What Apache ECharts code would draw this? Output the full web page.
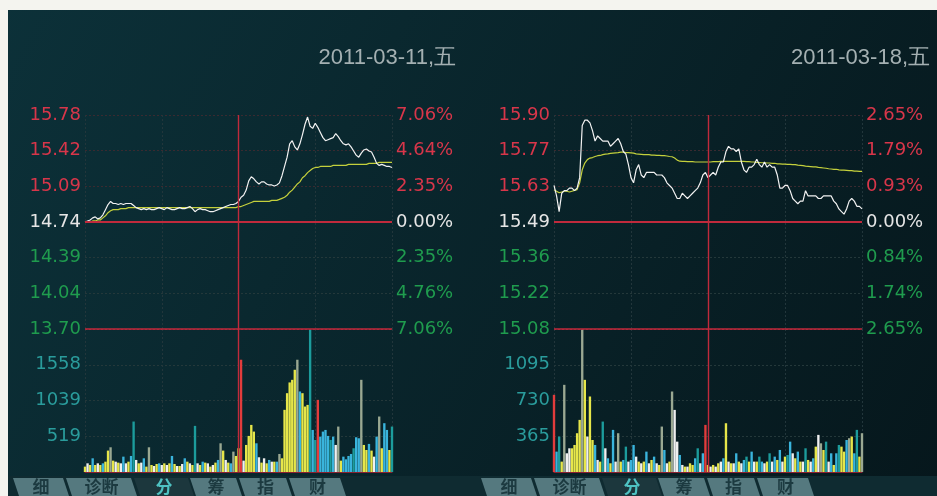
<!DOCTYPE html>
<html>
<head>
<meta charset="utf-8">
<script src="https://cdn.jsdelivr.net/npm/echarts@6/dist/echarts.min.js"></script>
<style>
html,body{margin:0;padding:0;background:#ffffff;}
#c{width:937px;height:496px;}
</style>
</head>
<body>
<div id="c"></div>
<script>
// ---------------- DATA ----------------
const dates = ['2011-03-11', '2011-03-18'];
const weekday = '五';
const tabNames = ['细', '诊断', '分', '筹', '指', '财'];

const leftPriceLabels  = ['15.78', '15.42', '15.09', '14.74', '14.39', '14.04', '13.70'];
const leftPctLabels    = ['7.06%', '4.64%', '2.35%', '0.00%', '2.35%', '4.76%', '7.06%'];
const leftVolTicks     = [519, 1039, 1558];
const rightPriceLabels = ['15.90', '15.77', '15.63', '15.49', '15.36', '15.22', '15.08'];
const rightPctLabels   = ['2.65%', '1.79%', '0.93%', '0.00%', '0.84%', '1.74%', '2.65%'];
const rightVolTicks    = [365, 730, 1095];

// price (2-minute samples, 121 points)
const leftPrice = [
  14.74,14.75,14.76,14.78,14.79,14.77,14.78,14.81,14.86,14.91,
  14.94,14.92,14.92,14.91,14.92,14.91,14.92,14.92,14.92,14.90,
  14.88,14.87,14.86,14.87,14.86,14.87,14.86,14.86,14.87,14.88,
  14.87,14.86,14.88,14.87,14.86,14.86,14.87,14.88,14.87,14.87,
  14.88,14.89,14.87,14.84,14.86,14.87,14.86,14.86,14.85,14.84,
  14.84,14.85,14.86,14.87,14.88,14.89,14.90,14.91,14.91,14.92,
  14.94,14.98,15.00,15.05,15.14,15.18,15.16,15.13,15.11,15.13,
  15.13,15.11,15.10,15.10,15.09,15.10,15.12,15.19,15.28,15.37,
  15.50,15.53,15.47,15.44,15.50,15.59,15.69,15.76,15.67,15.65,
  15.70,15.66,15.61,15.56,15.53,15.54,15.55,15.56,15.60,15.57,
  15.53,15.50,15.49,15.50,15.47,15.43,15.39,15.37,15.41,15.44,
  15.45,15.43,15.42,15.37,15.31,15.29,15.30,15.29,15.28,15.28,15.27
];
const leftAvg = [
  14.74,14.74,14.74,14.75,14.75,14.76,14.76,14.78,14.80,14.83,
  14.85,14.86,14.86,14.86,14.87,14.87,14.87,14.88,14.88,14.88,
  14.88,14.88,14.88,14.88,14.88,14.88,14.88,14.88,14.88,14.88,
  14.88,14.88,14.88,14.88,14.88,14.88,14.88,14.88,14.88,14.88,
  14.88,14.88,14.88,14.88,14.88,14.88,14.88,14.88,14.88,14.88,
  14.88,14.88,14.88,14.88,14.88,14.88,14.88,14.88,14.88,14.88,
  14.89,14.89,14.90,14.91,14.92,14.93,14.94,14.94,14.94,14.94,
  14.94,14.94,14.94,14.95,14.95,14.95,14.96,14.97,14.98,15.00,
  15.03,15.05,15.08,15.11,15.13,15.17,15.19,15.22,15.24,15.26,
  15.27,15.27,15.28,15.28,15.28,15.28,15.28,15.29,15.29,15.29,
  15.29,15.29,15.29,15.30,15.30,15.30,15.30,15.30,15.30,15.30,
  15.30,15.31,15.31,15.31,15.31,15.32,15.32,15.32,15.32,15.32,15.32
];
const leftVol = [
  78,126,102,199,102,126,102,126,150,311,
  359,165,150,136,126,223,126,150,233,733,
  175,126,136,199,78,359,102,87,116,126,
  102,126,102,126,233,116,87,87,116,199,
  150,126,102,670,126,102,150,136,126,78,
  102,136,175,417,311,175,136,126,296,233,
  345,1631,165,393,524,684,587,417,214,136,
  199,126,175,150,150,150,262,199,903,1145,
  1301,1339,1485,1631,1170,1145,951,975,2067,611,
  466,1048,514,587,611,524,466,514,393,660,
  165,223,184,233,262,345,505,490,1339,393,
  320,408,311,223,514,806,345,709,611,320,660
];
const leftVolKind = 'YWYCYWYCYY GYWYWCWYCT WYWCYGYWYC WYWYCYWYWC YWYTWYCYWY WYCGYWYCGY YRWYYYYCWY WYCWYCGYYY YYYGCYYYTC TRCCCCTCWG YCCCCTCCGY YCYWCGYCCYT';

const rightPrice = [
  15.63,15.59,15.53,15.60,15.61,15.61,15.62,15.62,15.61,15.62,
  15.66,15.86,15.88,15.88,15.87,15.84,15.80,15.82,15.81,15.80,
  15.80,15.80,15.78,15.79,15.80,15.81,15.79,15.76,15.75,15.71,
  15.66,15.64,15.69,15.71,15.67,15.66,15.68,15.68,15.68,15.68,
  15.67,15.67,15.67,15.66,15.64,15.63,15.62,15.60,15.58,15.58,
  15.60,15.59,15.58,15.59,15.60,15.61,15.62,15.64,15.67,15.68,
  15.66,15.67,15.68,15.67,15.70,15.72,15.72,15.76,15.78,15.77,
  15.77,15.76,15.77,15.72,15.69,15.68,15.70,15.70,15.71,15.73,
  15.71,15.70,15.72,15.70,15.71,15.70,15.70,15.67,15.62,15.62,
  15.63,15.63,15.61,15.58,15.57,15.56,15.57,15.57,15.61,15.59,
  15.59,15.59,15.59,15.58,15.58,15.59,15.59,15.59,15.59,15.57,
  15.56,15.54,15.53,15.52,15.54,15.57,15.58,15.57,15.55,15.55,15.54
];
const rightAvg = [
  15.614,15.608,15.602,15.605,15.608,15.608,15.605,15.608,15.611,15.614,
  15.640,15.690,15.716,15.729,15.735,15.737,15.741,15.744,15.745,15.748,
  15.750,15.751,15.753,15.754,15.755,15.756,15.758,15.758,15.756,15.756,
  15.755,15.754,15.751,15.750,15.749,15.748,15.748,15.748,15.746,15.746,
  15.745,15.745,15.744,15.744,15.743,15.741,15.740,15.735,15.727,15.723,
  15.722,15.722,15.721,15.721,15.721,15.720,15.720,15.720,15.720,15.720,
  15.720,15.720,15.721,15.721,15.721,15.722,15.722,15.722,15.722,15.722,
  15.722,15.722,15.722,15.722,15.722,15.721,15.721,15.720,15.720,15.718,
  15.718,15.717,15.717,15.716,15.716,15.715,15.715,15.713,15.713,15.712,
  15.712,15.711,15.711,15.710,15.710,15.708,15.707,15.706,15.704,15.703,
  15.702,15.701,15.701,15.699,15.698,15.697,15.696,15.694,15.693,15.692,
  15.692,15.690,15.689,15.689,15.688,15.687,15.687,15.685,15.685,15.684,15.684
];
const rightVol = [
  788,208,362,106,890,191,242,242,276,396,
  532,1453,941,362,771,327,276,123,106,515,
  242,140,89,430,106,396,106,123,259,106,
  123,276,157,106,89,106,208,89,123,157,
  89,72,464,225,89,106,822,634,310,174,
  72,55,55,89,72,140,242,89,191,481,
  72,55,72,55,89,106,140,498,106,89,
  89,191,106,89,123,157,106,208,106,106,
  157,106,89,106,191,106,157,123,225,106,
  157,174,310,191,140,208,106,106,242,123,
  106,140,259,379,293,225,310,106,191,72,
  191,276,259,208,327,345,362,191,430,157,396
];
const rightVolKind = 'RCTYGWWYYY YGYWYYCWYT WCYCWGYCTW CCWYWYCWYC WYGCWYGWWC WYWYYCTWCR YWYWYWCYWY WCYWCTYCWY TCWYTWCYCW YTCWYCYWTY WCYWGYTWCY CTYYCGYCTYG';

// x categories: 2-minute trading times
function buildTimes() {
  const out = [];
  const fmt = m => String(Math.floor(m / 60)).padStart(2, '0') + ':' + String(m % 60).padStart(2, '0');
  for (let m = 570; m <= 690; m += 2) out.push(fmt(m));
  for (let m = 782; m <= 900; m += 2) out.push(fmt(m));
  return out;
}
const times = buildTimes();

// ---------------- STYLE ----------------
const RED = '#d8364a', WHITE = '#e6e6e6', GREEN = '#1f9c4e', TEAL = '#2a9c9c';
const KIND_COLOR = { Y: '#e6e64a', W: '#f0f0f0', C: '#3ab4dc', T: '#1c9c9c', R: '#e23c3c', G: '#9aa892' };
const LABEL_FONT = { fontFamily: 'DejaVu Sans', fontSize: 18 };
const TOP = 115, PRICE_H = 214, VOL_H = 143;
const layouts = [{ left: 85, width: 307, titleRight: 476, tabShift: 0 }, { left: 554, width: 308, titleRight: 2, tabShift: 468 }];

function labelColor(v) {
  v = Number(v);
  return v > 3 ? RED : (v === 3 ? WHITE : GREEN);
}

const grids = [], xAxes = [], yAxes = [], series = [], titles = [];

function addPanel(k, priceLabels, pctLabels, volTicks, price, avg, vol, kindStr) {
  const L = layouts[k];
  const kinds = kindStr.replace(/ /g, '').split('');
  const gP = grids.length;
  grids.push({ left: L.left, top: TOP, width: L.width, height: PRICE_H });
  grids.push({ left: L.left, top: TOP + PRICE_H, width: L.width, height: VOL_H });

  const vSplit = {
    show: true,
    interval: (i) => i % 30 === 0 && i !== 60,
    lineStyle: { color: '#22363b', width: 1, type: [2, 2] }
  };
  const xP = xAxes.length;
  xAxes.push({ type: 'category', gridIndex: gP, data: times, boundaryGap: false,
    axisLine: { show: false }, axisTick: { show: false }, axisLabel: { show: false }, splitLine: vSplit });
  xAxes.push({ type: 'category', gridIndex: gP + 1, data: times, boundaryGap: false,
    axisLine: { show: true, lineStyle: { color: '#8a2030', width: 1 } },
    axisTick: { show: false }, axisLabel: { show: false }, splitLine: vSplit });

  const low = Number(priceLabels[6]), high = Number(priceLabels[0]), base = Number(priceLabels[3]);
  const yP = yAxes.length;
  // hidden price scale
  yAxes.push({ type: 'value', gridIndex: gP, min: low, max: high, show: false, splitLine: { show: false } });
  // left tick labels (row index axis)
  yAxes.push({ type: 'value', gridIndex: gP, position: 'left', min: 0, max: 6, interval: 1,
    axisLine: { show: false }, axisTick: { show: false },
    axisLabel: Object.assign({ margin: 4, formatter: v => priceLabels[6 - v], color: labelColor }, LABEL_FONT),
    splitLine: { show: true, lineStyle: { width: 1, type: [2, 2],
      color: ['#8a2030', '#24383a', '#24383a', '#8a2030', '#3a2a30', '#3a2a30', '#3a2a30'] } } });
  // right percent labels
  yAxes.push({ type: 'value', gridIndex: gP, position: 'right', min: 0, max: 6, interval: 1,
    axisLine: { show: false }, axisTick: { show: false },
    axisLabel: Object.assign({ margin: 4, formatter: v => pctLabels[6 - v], color: labelColor }, LABEL_FONT),
    splitLine: { show: false } });
  // hidden volume scale
  const volMax = volTicks[2] * 4 / 3;
  yAxes.push({ type: 'value', gridIndex: gP + 1, min: 0, max: volMax, show: false, splitLine: { show: false } });
  // volume labels (row index axis)
  yAxes.push({ type: 'value', gridIndex: gP + 1, position: 'left', min: 0, max: 4, interval: 1,
    axisLine: { show: false }, axisTick: { show: false },
    axisLabel: Object.assign({ margin: 4, color: TEAL,
      formatter: v => (v >= 1 && v <= 3 ? String(volTicks[v - 1]) : '') }, LABEL_FONT),
    splitLine: { show: true, lineStyle: { width: 1, type: [2, 2],
      color: ['rgba(0,0,0,0)', '#24383a', '#24383a', '#24383a', 'rgba(0,0,0,0)'] } } });

  const redLine = { color: '#c02a3c', type: 'solid' };
  series.push({ type: 'line', name: 'avg' + k, xAxisIndex: xP, yAxisIndex: yP, data: avg,
    showSymbol: false, symbol: 'none', z: 3,
    lineStyle: { color: '#c4d03c', width: 1.2 },
    markLine: { silent: true, symbol: 'none', label: { show: false }, animation: false,
      data: [
        { yAxis: base, lineStyle: Object.assign({ width: 2.2 }, redLine) },
        { yAxis: low, lineStyle: Object.assign({ width: 1.6 }, redLine) },
        { xAxis: 60, lineStyle: Object.assign({ width: 1.4 }, redLine) }
      ] } });
  series.push({ type: 'line', name: 'price' + k, xAxisIndex: xP, yAxisIndex: yP, data: price,
    showSymbol: false, symbol: 'none', z: 4,
    lineStyle: { color: '#f2f2f2', width: 1.2 } });
  series.push({ type: 'bar', name: 'vol' + k, xAxisIndex: xP + 1, yAxisIndex: yP + 3,
    barWidth: '92%', z: 2,
    data: vol.map((v, i) => ({ value: v, itemStyle: { color: KIND_COLOR[kinds[i]] || '#e6e64a' } })),
    markLine: { silent: true, symbol: 'none', label: { show: false }, animation: false,
      data: [{ xAxis: 60, lineStyle: Object.assign({ width: 1.4 }, redLine) }] } });

  titles.push({ text: dates[k] + ',' + weekday, right: L.titleRight, top: 42,
    textStyle: { color: '#a4b0b2', fontFamily: 'Liberation Sans', fontSize: 22, fontWeight: 'normal' } });
}

addPanel(0, leftPriceLabels, leftPctLabels, leftVolTicks, leftPrice, leftAvg, leftVol, leftVolKind);
addPanel(1, rightPriceLabels, rightPctLabels, rightVolTicks, rightPrice, rightAvg, rightVol, rightVolKind);

// bottom tabs + scan border
const tabEdges = [[13, 63], [66, 131], [134, 188], [190, 236], [239, 286], [289, 340]];
const graphics = [
  { type: 'rect', shape: { x: 0, y: 476, width: 937, height: 20 }, style: { fill: '#0f2b31' }, z: 0 },
  { type: 'rect', shape: { x: 0, y: 0, width: 937, height: 10 }, style: { fill: '#f4f4ef' }, z: 100 },
  { type: 'rect', shape: { x: 0, y: 0, width: 8, height: 496 }, style: { fill: '#f4f4ef' }, z: 100 }
];
layouts.forEach(L => {
  tabEdges.forEach((e, j) => {
    const x0 = e[0] + L.tabShift, x1 = e[1] + L.tabShift;
    const active = tabNames[j] === '分';
    graphics.push({ type: 'polygon', z: 50,
      shape: { points: [[x0, 478], [x1, 478], [x1 + 6, 496], [x0 + 6, 496]] },
      style: { fill: active ? '#1c373d' : '#55797f' } });
    graphics.push({ type: 'text', z: 51, x: (x0 + x1) / 2 + 3, y: 487,
      style: { text: tabNames[j], fill: active ? '#4ec2c2' : '#1c3a40',
        font: 'bold 17px "Noto Sans CJK SC"', align: 'center', verticalAlign: 'middle' } });
  });
});

const chart = echarts.init(document.getElementById('c'), null, { renderer: 'canvas' });
chart.setOption({
  animation: false,
  backgroundColor: {
    type: 'linear', x: 0, y: 0, x2: 1, y2: 1,
    colorStops: [{ offset: 0, color: '#0c3139' }, { offset: 1, color: '#06171c' }]
  },
  title: titles,
  grid: grids,
  xAxis: xAxes,
  yAxis: yAxes,
  series: series,
  graphic: graphics
});
</script>
</body>
</html>
